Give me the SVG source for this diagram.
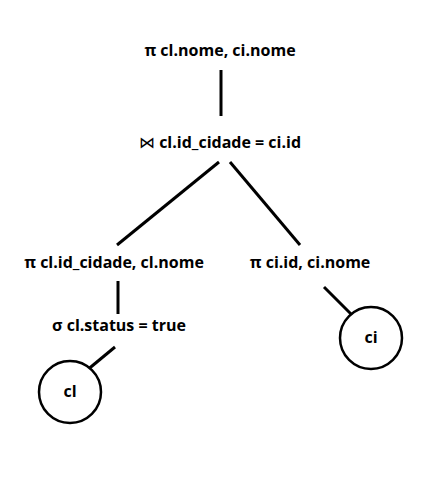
<svg xmlns="http://www.w3.org/2000/svg" width="434" height="484" viewBox="0 0 434 484">
<style>
text{font-family:"Open Sans","Noto Sans","DejaVu Sans",sans-serif;font-weight:bold;font-size:16px;fill:#000;text-anchor:middle}
.e{stroke:#000;stroke-width:3;fill:none}
.c{stroke:#000;stroke-width:2.5;fill:#fff}
.j{font-weight:normal}
</style>
<rect width="434" height="484" fill="#fff"/>
<g id="connectors">
<line class="e" x1="221" y1="70" x2="221" y2="116"/>
<line class="e" x1="219" y1="162" x2="117" y2="245"/>
<line class="e" x1="230" y1="162" x2="300" y2="245"/>
<line class="e" x1="118" y1="281" x2="118" y2="314"/>
<line class="e" x1="115" y1="347" x2="86" y2="371"/>
<line class="e" x1="324" y1="287" x2="353" y2="316"/>
</g>
<g id="proj_top"><text x="220" y="56">π cl.nome, ci.nome</text></g>
<g id="join"><text x="220" y="148"><tspan class="j">⋈</tspan> cl.id_cidade = ci.id</text></g>
<g id="proj_cl"><text x="114" y="268">π cl.id_cidade, cl.nome</text></g>
<g id="sel_cl"><text x="119" y="331">σ cl.status = true</text></g>
<g id="proj_ci"><text x="310" y="268">π ci.id, ci.nome</text></g>
<g id="cl"><circle class="c" cx="70" cy="392" r="31"/><text x="70" y="397">cl</text></g>
<g id="ci"><circle class="c" cx="371" cy="338" r="31"/><text x="371" y="343">ci</text></g>
</svg>
